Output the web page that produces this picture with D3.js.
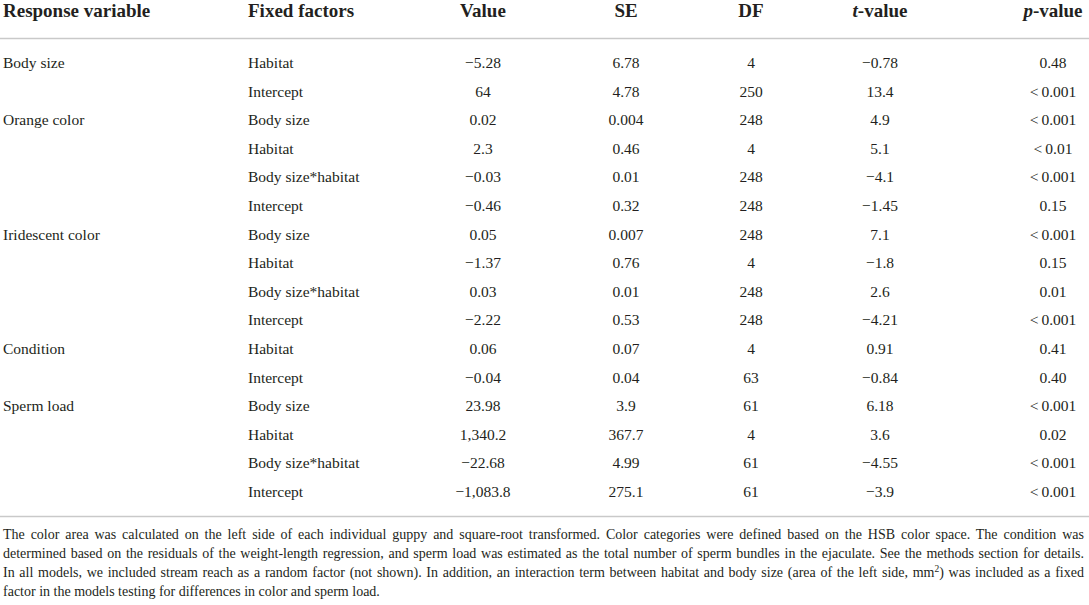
<!DOCTYPE html>
<html>
<head>
<meta charset="utf-8">
<script src="https://cdn.jsdelivr.net/npm/d3@7"></script>
<style>
  html, body { margin: 0; padding: 0; background: #ffffff; }
  svg { display: block; }
  text { font-family: "Liberation Serif", "Times New Roman", serif; fill: #231f20; }
</style>
</head>
<body>
<script>
// ---- data ----
const headers = ["Response variable", "Fixed factors", "Value", "SE", "DF", "t-value", "p-value"];
const responseVars = ["Body size", "", "Orange color", "", "", "", "Iridescent color", "", "", "", "Condition", "", "Sperm load", "", "", ""];
const fixedFactors = ["Habitat", "Intercept", "Body size", "Habitat", "Body size*habitat", "Intercept", "Body size", "Habitat", "Body size*habitat", "Intercept", "Habitat", "Intercept", "Body size", "Habitat", "Body size*habitat", "Intercept"];
const values = ["\u22125.28", "64", "0.02", "2.3", "\u22120.03", "\u22120.46", "0.05", "\u22121.37", "0.03", "\u22122.22", "0.06", "\u22120.04", "23.98", "1,340.2", "\u221222.68", "\u22121,083.8"];
const seValues = ["6.78", "4.78", "0.004", "0.46", "0.01", "0.32", "0.007", "0.76", "0.01", "0.53", "0.07", "0.04", "3.9", "367.7", "4.99", "275.1"];
const dfValues = ["4", "250", "248", "4", "248", "248", "248", "4", "248", "248", "4", "63", "61", "4", "61", "61"];
const tValues = ["\u22120.78", "13.4", "4.9", "5.1", "\u22124.1", "\u22121.45", "7.1", "\u22121.8", "2.6", "\u22124.21", "0.91", "\u22120.84", "6.18", "3.6", "\u22124.55", "\u22123.9"];
const pValues = ["0.48", "<\u20090.001", "<\u20090.001", "<\u20090.01", "<\u20090.001", "0.15", "<\u20090.001", "0.15", "0.01", "<\u20090.001", "0.41", "0.40", "<\u20090.001", "0.02", "<\u20090.001", "<\u20090.001"];
const footnoteLines = [
  "The color area was calculated on the left side of each individual guppy and square-root transformed. Color categories were defined based on the HSB color space. The condition was",
  "determined based on the residuals of the weight-length regression, and sperm load was estimated as the total number of sperm bundles in the ejaculate. See the methods section for details.",
  "In all models, we included stream reach as a random factor (not shown). In addition, an interaction term between habitat and body size (area of the left side, mm^2) was included as a fixed",
  "factor in the models testing for differences in color and sperm load."
];

// ---- layout ----
const W = 1089, H = 605;
const svg = d3.select("body").append("svg").attr("width", W).attr("height", H);

const columns = ["resp", "fixed", "value", "se", "df", "t", "p"];
const colX = d3.scaleOrdinal().domain(columns).range([3, 248, 483, 626, 751, 880, 1053]);
const colAnchor = d3.scaleOrdinal().domain(columns).range(["start", "start", "middle", "middle", "middle", "middle", "middle"]);

const rowIdx = d3.range(fixedFactors.length);
const yRow = d3.scaleLinear().domain([0, fixedFactors.length - 1]).range([68, 497]);

// header
const headerG = svg.append("g");
headers.forEach((h, i) => {
  const t = headerG.append("text")
    .attr("x", colX(columns[i]))
    .attr("y", 17)
    .attr("text-anchor", colAnchor(columns[i]))
    .style("font-size", "19px")
    .style("font-weight", "bold");
  if (h.endsWith("-value")) {
    t.append("tspan").style("font-style", "italic").text(h[0]);
    t.append("tspan").text(h.slice(1));
  } else {
    t.text(h);
  }
});

// rules
const rules = [38.5, 516.5];
svg.selectAll("line.rule").data(rules).enter().append("line")
  .attr("class", "rule")
  .attr("x1", 0).attr("x2", W)
  .attr("y1", d => d).attr("y2", d => d)
  .attr("stroke", "#c9c9c9").attr("stroke-width", 1.6);

// body
const colData = {
  resp: responseVars, fixed: fixedFactors, value: values, se: seValues,
  df: dfValues, t: tValues, p: pValues
};
const bodyG = svg.append("g");
columns.forEach(c => {
  bodyG.selectAll(null).data(rowIdx).enter().append("text")
    .attr("x", colX(c))
    .attr("y", i => yRow(i))
    .attr("text-anchor", colAnchor(c))
    .style("font-size", "15.5px")
    .text(i => colData[c][i]);
});

// footnote (justified lines)
const footY = d3.scaleLinear().domain([0, 3]).range([539, 596]);
const left = 3, right = 1084;
footnoteLines.forEach((line, i) => {
  const t = svg.append("text")
    .attr("x", left)
    .attr("y", footY(i))
    .style("font-size", "14px");
  if (line.includes("^2")) {
    const parts = line.split("^2");
    t.append("tspan").text(parts[0]);
    t.append("tspan").attr("dy", -5).style("font-size", "9.5px").text("2");
    t.append("tspan").attr("dy", 5).text(parts[1]);
  } else {
    t.text(line);
  }
  if (i < footnoteLines.length - 1) {
    const natural = t.node().getComputedTextLength();
    const spaces = (line.match(/ /g) || []).length;
    const extra = (right - left - natural) / spaces;
    t.style("word-spacing", extra + "px");
  }
});
</script>
</body>
</html>
